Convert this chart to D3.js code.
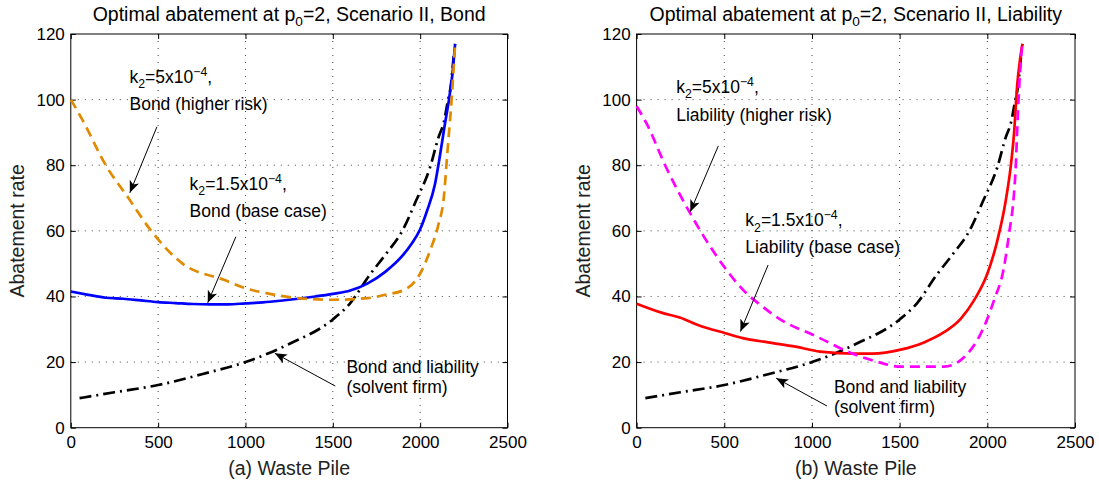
<!DOCTYPE html>
<html>
<head>
<meta charset="utf-8">
<script src="https://cdn.jsdelivr.net/npm/d3@7"></script>
<style>
  body { margin: 0; background: #fff; }
  svg { font-family: "Liberation Sans", Arial, Helvetica, sans-serif; }
</style>
</head>
<body>
<svg id="chart" width="1099" height="485"></svg>
<script>
const xTicks = [0, 500, 1000, 1500, 2000, 2500]
const yTicks = [0, 20, 40, 60, 80, 100, 120]

// [waste pile, abatement rate]
const solventFirm = [[50, 9], [250, 10.8], [500, 13], [750, 16.3], [1000, 20], [1250, 25.5], [1500, 33],
  [1600, 38], [1710, 46.5], [1805, 53], [1900, 60.2], [1975, 69], [2057, 79.4], [2105, 88.5],
  [2135, 93], [2160, 100], [2175, 104], [2190, 112], [2200, 117]]

const bondBase = [[0, 41.5], [100, 40.5], [200, 39.6], [300, 39.3], [400, 38.8], [500, 38.3], [600, 38],
  [700, 37.7], [800, 37.6], [900, 37.6], [1000, 37.9], [1100, 38.2], [1200, 38.7], [1300, 39.3],
  [1400, 40], [1500, 40.8], [1600, 41.8], [1700, 44], [1800, 47.5], [1900, 52.5], [1950, 56],
  [2000, 60.5], [2040, 66.2], [2085, 74.3], [2115, 83.5], [2140, 92], [2165, 100], [2185, 108],
  [2200, 117]]

const bondHighRisk = [[0, 100], [65, 94], [200, 80], [330, 70], [460, 60], [640, 50], [880, 45],
  [1000, 42.5], [1120, 41], [1300, 39.5], [1500, 39], [1700, 39.5], [1800, 40.5], [1920, 42.3],
  [2000, 47], [2057, 54], [2105, 62], [2135, 70], [2157, 84.7], [2180, 100], [2200, 117]]

const liabilityBase = [[0, 37.8], [146, 35], [250, 33.5], [346, 31.4], [506, 28.8], [606, 27.3],
  [750, 26], [906, 24.7], [1046, 23.2], [1246, 22.6], [1346, 22.6], [1506, 23.8], [1639, 26],
  [1753, 29.1], [1848, 33.2], [1924, 38.8], [2000, 46.9], [2057, 57], [2105, 69.2], [2133, 79.4],
  [2152, 89.5], [2171, 104.8], [2186, 112], [2200, 117]]

const liabilityHighRisk = [[0, 98], [56, 92.8], [166, 79.6], [306, 65.3], [446, 53.1], [626, 41],
  [706, 37.4], [826, 32.8], [1026, 27.8], [1226, 22.7], [1366, 20.2], [1506, 18.6], [1753, 18.6],
  [1886, 22.5], [1962, 28.6], [2038, 38.8], [2095, 48.9], [2124, 59.1], [2152, 71.3], [2162, 79.4],
  [2171, 91.6], [2186, 108], [2200, 117]]

const SUB = "sub", SUP = "sup"

const panels = [
  {
    left: 70.8, right: 507.5,
    title: [["Optimal abatement at p"], ["0", SUB], ["=2, Scenario II, Bond"]],
    xLabel: "(a) Waste Pile",
    series: [
      { data: solventFirm, color: "#000", dash: "12,5,2,5" },
      { data: bondBase, color: "#0000ff", dash: null },
      { data: bondHighRisk, color: "#e08a00", dash: "10,6" },
    ],
    notes: [
      { at: [336, 105], gap: 27, lines: [[["k"], ["2", SUB], ["=5x10"], ["\u22124", SUP], [","]], [["Bond (higher risk)"]]] },
      { at: [680, 72.4], gap: 27, lines: [[["k"], ["2", SUB], ["=1.5x10"], ["\u22124", SUP], [","]], [["Bond (base case)"]]] },
      { at: [1578, 16.7], gap: 20, lines: [[["Bond and liability"]], [["(solvent firm)"]]] },
    ],
    arrows: [[[493, 91.7], [338, 71.6]], [[945, 58.2], [784, 38.1]], [[1514, 12.7], [1168, 22.7]]],
  },
  {
    left: 636.6, right: 1075,
    title: [["Optimal abatement at p"], ["0", SUB], ["=2, Scenario II, Liability"]],
    xLabel: "(b) Waste Pile",
    series: [
      { data: solventFirm, color: "#000", dash: "12,5,2,5" },
      { data: liabilityBase, color: "#ff0000", dash: null },
      { data: liabilityHighRisk, color: "#ff00ff", dash: "10,6" },
    ],
    notes: [
      { at: [226, 102], gap: 28, lines: [[["k"], ["2", SUB], ["=5x10"], ["\u22124", SUP], [","]], [["Liability (higher risk)"]]] },
      { at: [620, 61.4], gap: 27, lines: [[["k"], ["2", SUB], ["=1.5x10"], ["\u22124", SUP], [","]], [["Liability (base case)"]]] },
      { at: [1125, 10.7], gap: 20.5, lines: [[["Bond and liability"]], [["(solvent firm)"]]] },
    ],
    arrows: [[[466, 85.9], [306, 65.8]], [[750, 49.6], [592, 29.3]], [[1086, 6.6], [796, 15.1]]],
  },
]

const plotTop = 34, plotBottom = 427.7
const svg = d3.select("#chart")

svg.append("defs").append("marker")
  .attr("id", "head")
  .attr("viewBox", "0 0 12 10")
  .attr("refX", 12).attr("refY", 5)
  .attr("markerWidth", 12).attr("markerHeight", 10)
  .attr("markerUnits", "userSpaceOnUse")
  .attr("orient", "auto")
  .append("path")
  .attr("d", "M0,0 L12,5 L0,10 L3,5 Z")
  .attr("fill", "#000")

// write text made of plain / subscript / superscript pieces
function richText(sel, parts, size) {
  let shift = 0
  parts.forEach(([str, kind]) => {
    const target = kind === SUB ? size * 0.3 : kind === SUP ? -size * 0.42 : 0
    sel.append("tspan")
      .attr("dy", target - shift)
      .attr("font-size", kind ? size * 0.7 : size)
      .text(str)
    shift = target
  })
}

panels.forEach(p => {
  const x = d3.scaleLinear().domain([0, 2500]).range([p.left, p.right])
  const y = d3.scaleLinear().domain([0, 120]).range([plotBottom, plotTop])
  const g = svg.append("g")

  // dotted grid
  g.selectAll(".gx").data(xTicks.slice(1, -1)).join("line")
    .attr("x1", d => x(d)).attr("x2", d => x(d)).attr("y1", plotTop).attr("y2", plotBottom)
    .attr("stroke", "#444").attr("stroke-dasharray", "1,6")
  g.selectAll(".gy").data(yTicks.slice(1, -1)).join("line")
    .attr("y1", d => y(d)).attr("y2", d => y(d)).attr("x1", p.left).attr("x2", p.right)
    .attr("stroke", "#444").attr("stroke-dasharray", "1,6")

  // axes (inward ticks on all sides)
  const fs = 17
  const fmt = d3.format("d")
  const axB = g.append("g").attr("transform", `translate(0,${plotBottom})`)
    .call(d3.axisBottom(x).tickValues(xTicks).tickFormat(fmt).tickSizeInner(-5).tickSizeOuter(0).tickPadding(8))
  const axT = g.append("g").attr("transform", `translate(0,${plotTop})`)
    .call(d3.axisTop(x).tickValues(xTicks).tickSizeInner(-5).tickSizeOuter(0).tickFormat(""))
  const axL = g.append("g").attr("transform", `translate(${p.left},0)`)
    .call(d3.axisLeft(y).tickValues(yTicks).tickFormat(fmt).tickSizeInner(-5).tickSizeOuter(0).tickPadding(6))
  const axR = g.append("g").attr("transform", `translate(${p.right},0)`)
    .call(d3.axisRight(y).tickValues(yTicks).tickSizeInner(-5).tickSizeOuter(0).tickFormat(""))
  ;[axB, axT, axL, axR].forEach(a => {
    a.select(".domain").remove()
    a.selectAll("line").attr("stroke", "#000")
    a.selectAll("text").attr("font-size", fs).attr("fill", "#000").attr("font-family", null)
  })
  axB.selectAll("text").attr("dy", "0.71em")

  g.append("rect")
    .attr("x", p.left).attr("y", plotTop)
    .attr("width", p.right - p.left).attr("height", plotBottom - plotTop)
    .attr("fill", "none").attr("stroke", "#000").attr("stroke-width", 1)

  // curves
  const line = d3.line().x(d => x(d[0])).y(d => y(d[1])).curve(d3.curveMonotoneX)
  p.series.forEach(s => {
    g.append("path")
      .attr("d", line(s.data))
      .attr("fill", "none")
      .attr("stroke", s.color)
      .attr("stroke-width", 2.7)
      .attr("stroke-dasharray", s.dash)
  })

  // annotations
  p.notes.forEach(n => {
    n.lines.forEach((ln, i) => {
      const t = g.append("text")
        .attr("x", x(n.at[0]))
        .attr("y", y(n.at[1]) + i * n.gap)
        .attr("fill", "#000")
      richText(t, ln, 17.5)
    })
  })
  p.arrows.forEach(([a, b]) => {
    g.append("line")
      .attr("x1", x(a[0])).attr("y1", y(a[1]))
      .attr("x2", x(b[0])).attr("y2", y(b[1]))
      .attr("stroke", "#000").attr("stroke-width", 1)
      .attr("marker-end", "url(#head)")
  })

  // titles and labels
  const mid = (p.left + p.right) / 2
  const title = g.append("text").attr("x", mid).attr("y", 20.5)
    .attr("text-anchor", "middle").attr("fill", "#000")
  richText(title, p.title, 19.5)

  g.append("text")
    .attr("x", mid).attr("y", 475)
    .attr("text-anchor", "middle").attr("font-size", 19.5).attr("fill", "#222")
    .text(p.xLabel)

  g.append("text")
    .attr("transform", `translate(${p.left - 46.5},${(plotTop + plotBottom) / 2}) rotate(-90)`)
    .attr("text-anchor", "middle").attr("font-size", 19.5).attr("fill", "#222")
    .text("Abatement rate")
})
</script>
</body>
</html>
